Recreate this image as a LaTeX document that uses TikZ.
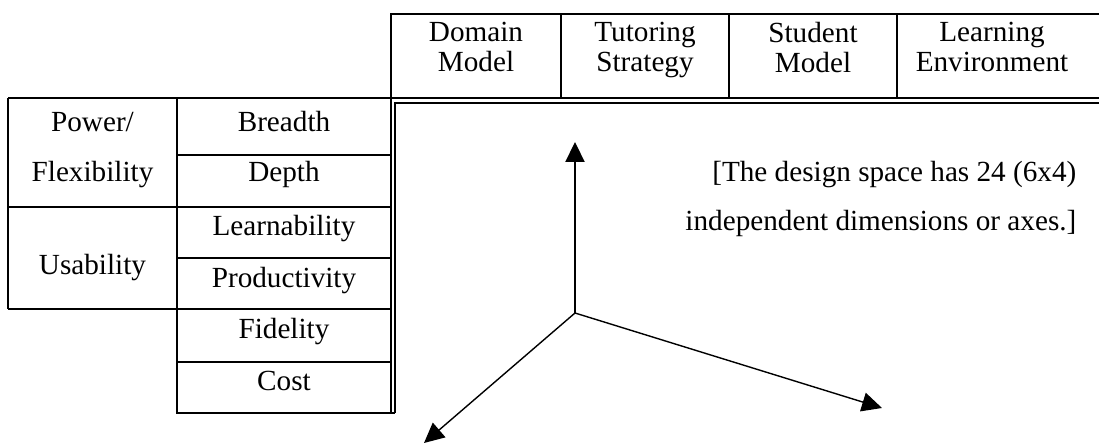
\documentclass[tikz,border=0pt]{standalone}
\usepackage{fontspec}
\setmainfont{Liberation Serif}
\usetikzlibrary{arrows.meta}

\newcommand\headfont{\fontsize{14.6}{15}\selectfont\lineskiplimit=-20pt\relax}

\tikzset{
  lbl/.style={anchor=base, inner sep=0pt, font=\fontsize{14.6}{17}\selectfont},
  head/.style={align=center, inner sep=0pt, font=\headfont},
  axis/.style={-{Triangle[length=10pt,width=9.6pt]}, line width=0.7pt}
}

\begin{document}
\begin{tikzpicture}[x=0.5pt,y=-0.5pt,line width=0.65pt]
  \useasboundingbox (0,0) rectangle (1099,444);

  % Header row of components
  \draw (391,98) -- (391,14) -- (1099,14);
  \draw (561,14) -- (561,98);
  \draw (729,14) -- (729,98);
  \draw (897,14) -- (897,98);
  \draw (8,98) -- (1099,98);
  \node[head] (dom) at (476,47.3) {Domain\\Model};
  \node[head] (tut) at (645,50.4) {Tutoring\\Strategy};
  \node[head] (stu) at (813,47.3) {Student\\Model};
  \node[head] (env) at (992,47.3) {Learning\\Environment};

  % Table of criteria
  \draw (8,98) -- (8,309);
  \draw (177,98) -- (177,413) -- (395,413);
  \draw (8,207) -- (391,207);
  \draw (8,309) -- (391,309);
  \draw (177,155) -- (391,155);
  \draw (177,258) -- (391,258);
  \draw (177,362) -- (391,362);
  \node[lbl] (pow1) at (92.5,132) {Power/};
  \node[lbl] (pow2) at (92.5,182) {Flexibility};
  \node[lbl] (usa) at (92.5,275) {Usability};
  \node[lbl] (bre) at (284,132) {Breadth};
  \node[lbl] (dep) at (284,182) {Depth};
  \node[lbl] (lea) at (284,235) {Learnability};
  \node[lbl] (pro) at (284,287) {Productivity};
  \node[lbl] (fid) at (284,338) {Fidelity};
  \node[lbl] (cos) at (284,390) {Cost};

  % Double border round the design space
  \draw (391,98) -- (391,413);
  \draw (395,413) -- (395,103) -- (1099,103);

  % Note
  \node[lbl,anchor=base east] (note1) at (1077,182) {[The design space has 24 (6x4)};
  \node[lbl,anchor=base east] (note2) at (1077,230) {independent dimensions or axes.]};

  % Axes
  \coordinate (o) at (575,313);
  \coordinate (up) at (575,142);
  \coordinate (lft) at (424,443);
  \coordinate (rgt) at (882,408);
  \draw[axis] (o) -- (up);
  \draw[axis] (o) -- (lft);
  \draw[axis] (o) -- (rgt);
\end{tikzpicture}
\end{document}
